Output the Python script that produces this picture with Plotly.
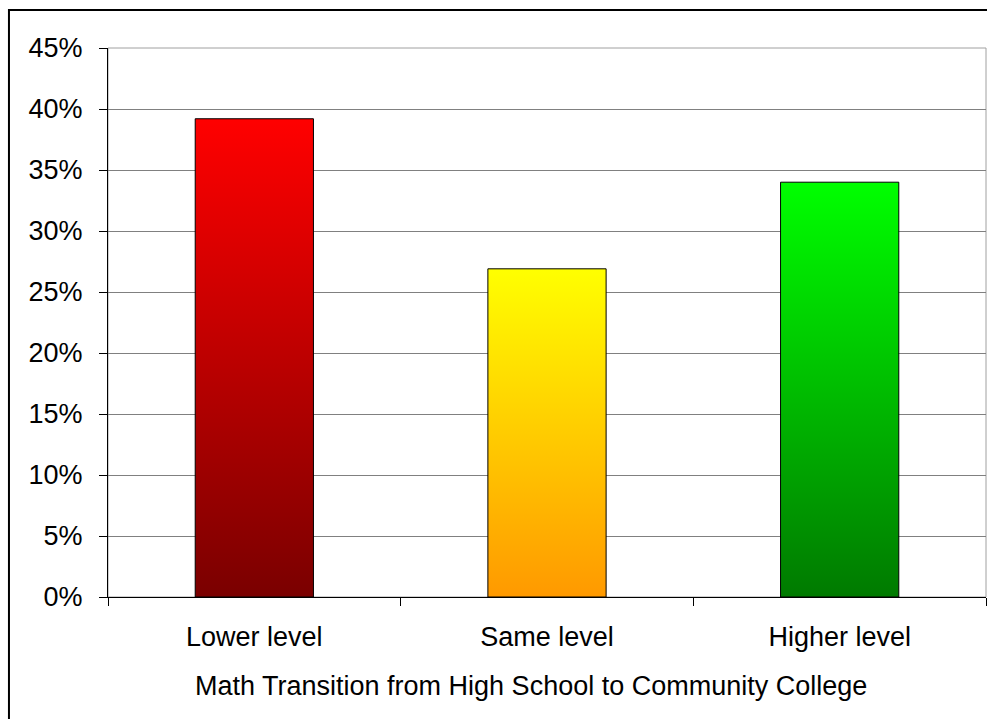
import plotly.graph_objects as go

# Share of students by math placement change
categories = ["Lower level", "Same level", "Higher level"]
shares = [39.2, 26.9, 34.0]  # percent
bottom_colors = ["#7a0000", "#ff9900", "#007a00"]
top_colors = ["#ff0000", "#ffff00", "#00ff00"]
y_ticks = [0, 5, 10, 15, 20, 25, 30, 35, 40, 45]
x_title = "Math Transition from High School to Community College"

BAR_HALF = 0.202  # half bar width in category units

fig = go.Figure()
for i, (cat, val) in enumerate(zip(categories, shares)):
    x0, x1 = i - BAR_HALF, i + BAR_HALF
    fig.add_trace(go.Scatter(
        x=[x0, x1, x1, x0, x0],
        y=[0, 0, val, val, 0],
        mode="lines",
        fill="toself",
        fillgradient=dict(
            type="vertical",
            colorscale=[[0, bottom_colors[i]], [1, top_colors[i]]],
        ),
        line=dict(color="black", width=1),
        name=cat,
        hoverinfo="text",
        text=f"{cat}: {val:.1f}%",
        showlegend=False,
    ))

font = dict(family="Liberation Sans, Arial, sans-serif", size=27, color="black")

fig.update_layout(
    width=987,
    height=719,
    margin=dict(l=108, r=1, t=48, b=122),
    paper_bgcolor="white",
    plot_bgcolor="white",
    font=font,
    showlegend=False,
    xaxis=dict(
        range=[-0.5, 2.5],
        tickmode="array",
        tickvals=[0, 1, 2],
        ticktext=categories,
        ticks="",
        ticklabelstandoff=16,
        showgrid=False,
        zeroline=False,
        showline=True,
        linecolor="black",
        linewidth=1,
        minor=dict(
            tickmode="array",
            tickvals=[-0.5, 0.5, 1.5, 2.5],
            ticks="outside",
            ticklen=8,
            tickcolor="black",
            tickwidth=1,
            showgrid=False,
        ),
        fixedrange=True,
    ),
    yaxis=dict(
        range=[0, 45],
        tickmode="array",
        tickvals=y_ticks,
        ticktext=[f"{v}%" for v in y_ticks],
        ticks="outside",
        ticklen=8,
        tickcolor="black",
        ticklabelstandoff=11,
        showgrid=True,
        gridcolor="#808080",
        gridwidth=1,
        zeroline=False,
        showline=True,
        linecolor="black",
        linewidth=1,
        fixedrange=True,
    ),
    annotations=[
        # category-axis title, placed under the tick labels
        dict(text=x_title, xref="paper", yref="paper", x=0.4818, y=-0.162,
             xanchor="center", yanchor="middle", showarrow=False, font=font),
    ],
    shapes=[
        # grey frame around the plotting area
        dict(type="rect", xref="paper", yref="paper", x0=0, x1=1, y0=0, y1=1,
             line=dict(color="#a0a0a0", width=1), layer="below"),
        # outer chart border
        dict(type="rect", xref="paper", yref="paper",
             x0=-0.1128, x1=1.01, y0=-0.25, y1=1.069,
             line=dict(color="black", width=2), layer="above"),
    ],
)

fig.write_html("out.html")
